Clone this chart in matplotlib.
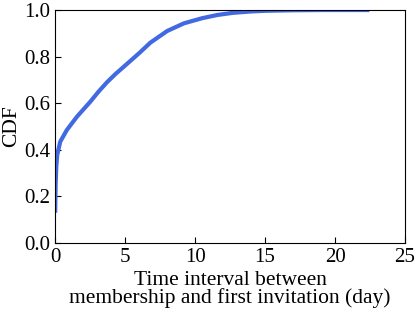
import matplotlib
matplotlib.use("Agg")
import matplotlib.pyplot as plt

# CDF
days = [0, 0.03, 0.08, 0.15, 0.36, 0.83, 1.55, 2.5, 3.1, 3.7, 4.3, 5.0, 6.0,
        6.8, 8.0, 9.2, 10.5, 11.6, 12.7, 14.0, 15.1, 17.0, 19.0, 22.3]
cdf = [0.139, 0.25, 0.33, 0.38, 0.435, 0.485, 0.542, 0.606, 0.65, 0.69,
       0.725, 0.762, 0.815, 0.86, 0.91, 0.943, 0.965, 0.979, 0.988, 0.994,
       0.997, 0.999, 1.0, 1.0]

plt.rcParams['font.family'] = ['Liberation Serif', 'DejaVu Serif']

fig, ax = plt.subplots(figsize=(4.15, 3.14), dpi=100)
ax.plot(days, cdf, color='#4169e1', linewidth=3, solid_joinstyle='round')

ax.set_xlim(0, 25)
ax.set_ylim(0, 1.0)
ax.set_xticks([0, 5, 10, 15, 20, 25])
ax.set_yticks([0.0, 0.2, 0.4, 0.6, 0.8, 1.0])
ax.tick_params(direction='in', labelsize=15, length=4, top=False, right=False)
ax.set_xlabel('Time interval between\nmembership and first invitation (day)',
              fontsize=15.5, linespacing=0.9, labelpad=3)
ax.set_ylabel('CDF', fontsize=15.5, labelpad=2)

fig.subplots_adjust(left=0.133, right=0.976, top=0.968, bottom=0.226)
fig.savefig('out.png')
